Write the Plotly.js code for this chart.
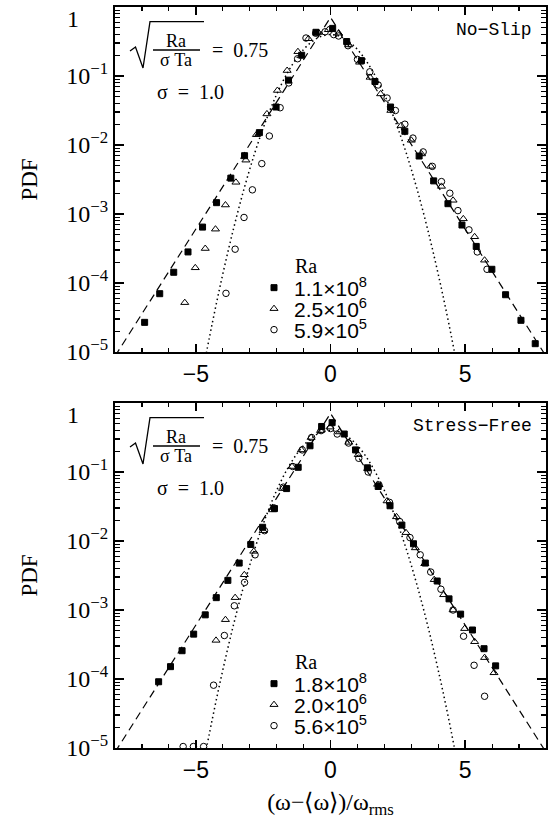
<!DOCTYPE html>
<html><head><meta charset="utf-8">
<script src="https://cdn.plot.ly/plotly-3.0.1.min.js"></script>
<style>html,body{margin:0;padding:0;background:#fff}#plot{width:548px;height:829px}</style>
</head><body><div id="plot"></div>
<script>
// ---------- data ----------
// No-Slip panel
const nsRa = ["1.1×10<sup>8</sup>", "2.5×10<sup>6</sup>", "5.9×10<sup>5</sup>"];
const nsSqX = [-6.90,-6.34,-5.82,-5.29,-4.75,-4.23,-3.70,-3.19,-2.64,-2.02,-1.56,-1.07,-0.54,0.08,0.60,1.15,1.65,2.23,2.76,3.29,3.83,4.36,4.88,5.41,5.99,6.50,7.07,7.60];
const nsSqY = [2.69e-5,7.0e-5,1.43e-4,2.82e-4,6.46e-4,1.46e-3,3.31e-3,7.0e-3,1.51e-2,3.55e-2,8.71e-2,0.200,0.430,0.490,0.316,0.167,8.32e-2,3.55e-2,1.58e-2,6.92e-3,3.02e-3,1.41e-3,6.92e-4,3.39e-4,1.58e-4,6.76e-5,2.88e-5,1.32e-5];
const nsTrX = [-5.41,-5.02,-4.65,-4.27,-3.90,-3.51,-3.14,-2.75,-2.36,-1.97,-1.61,-1.21,-0.82,-0.45,-0.08,0.30,0.68,1.08,1.47,1.86,2.24,2.62,3.00,3.38,3.72,4.12,4.55,4.93,5.35,5.72];
const nsTrY = [5.19e-5,1.66e-4,3.16e-4,6.03e-4,1.35e-3,2.88e-3,6.03e-3,1.41e-2,2.82e-2,6.17e-2,0.120,0.225,0.347,0.427,0.468,0.417,0.282,0.158,9.55e-2,5.50e-2,3.16e-2,1.91e-2,1.17e-2,7.41e-3,4.90e-3,2.51e-3,1.58e-3,8.51e-4,4.68e-4,2.14e-4];
const nsCiX = [-3.88,-3.54,-3.21,-2.90,-2.55,-2.27,-1.87,-1.55,-1.22,-0.91,-0.55,-0.20,0.12,0.30,0.65,1.00,1.46,1.77,2.10,2.41,2.76,3.06,3.44,3.78,4.12,4.43,4.73,5.14,5.45,5.81];
const nsCiY = [7.08e-5,3.09e-4,8.91e-4,2.24e-3,5.37e-3,1.35e-2,3.47e-2,7.94e-2,0.178,0.355,0.417,0.437,0.398,0.380,0.275,0.174,0.115,7.41e-2,4.79e-2,3.16e-2,2.00e-2,1.26e-2,7.94e-3,4.90e-3,2.95e-3,2.00e-3,1.12e-3,5.89e-4,2.82e-4,1.58e-4];
// Stress-Free panel
const sfRa = ["1.8×10<sup>8</sup>", "2.0×10<sup>6</sup>", "5.6×10<sup>5</sup>"];
const sfSqX = [-6.38,-5.94,-5.51,-5.08,-4.65,-4.24,-3.81,-3.39,-2.96,-2.52,-2.08,-1.63,-1.20,-0.76,-0.33,0.06,0.51,0.93,1.37,1.77,2.21,2.65,3.08,3.52,3.96,4.40,4.83,5.27,5.70,6.13];
const sfSqY = [9.12e-5,1.51e-4,2.57e-4,4.47e-4,8.51e-4,1.51e-3,2.69e-3,4.79e-3,8.91e-3,1.58e-2,2.95e-2,5.75e-2,0.117,0.240,0.457,0.519,0.355,0.209,0.115,6.17e-2,3.24e-2,1.70e-2,9.12e-3,4.79e-3,2.63e-3,1.45e-3,8.71e-4,5.13e-4,2.75e-4,1.55e-4];
const sfTrX = [-4.25,-3.90,-3.54,-3.20,-2.85,-2.50,-2.15,-1.78,-1.43,-1.08,-0.72,-0.37,-0.02,0.33,0.68,1.03,1.38,1.75,2.10,2.45,2.80,3.15,3.50,3.85,4.20,4.55,4.98,5.35,5.72,6.07];
const sfTrY = [3.63e-4,7.24e-4,1.51e-3,3.24e-3,7.08e-3,1.41e-2,2.82e-2,5.75e-2,0.120,0.209,0.316,0.398,0.447,0.380,0.269,0.178,0.112,6.61e-2,3.80e-2,2.24e-2,1.32e-2,7.94e-3,4.68e-3,2.75e-3,1.66e-3,1.00e-3,5.37e-4,3.47e-4,2.04e-4,1.23e-4];
const sfCiX = [-5.47,-5.09,-4.71,-4.34,-3.94,-3.57,-3.19,-2.80,-2.45,-2.10,-1.75,-1.40,-1.05,-0.70,-0.35,0.00,0.25,0.67,1.05,1.40,1.80,2.19,2.57,2.95,3.33,3.72,4.10,4.55,4.94,5.33,5.72];
const sfCiY = [1.05e-5,1.05e-5,1.05e-5,8.13e-5,4.27e-4,1.15e-3,2.51e-3,6.31e-3,1.41e-2,3.02e-2,6.03e-2,0.120,0.209,0.316,0.398,0.427,0.355,0.263,0.158,0.100,6.46e-2,3.63e-2,1.91e-2,1.12e-2,6.31e-3,3.55e-3,2.00e-3,1.00e-3,4.17e-4,1.58e-4,5.62e-5];
// reference curves (exponential: dashed, Gaussian: dotted)
const expX = [-8, 0, 8];
const expY = [8.7e-6, 0.707, 8.7e-6];
const gaussX = [-4.8,-4.4,-4.0,-3.6,-3.2,-2.8,-2.4,-2.0,-1.6,-1.2,-0.8,-0.4,0,0.4,0.8,1.2,1.6,2.0,2.4,2.8,3.2,3.6,4.0,4.4,4.8];
const gaussY = [3.96e-6,2.49e-5,1.338e-4,6.12e-4,2.384e-3,7.915e-3,2.239e-2,5.40e-2,0.1109,0.1942,0.2897,0.3683,0.3989,0.3683,0.2897,0.1942,0.1109,5.40e-2,2.239e-2,7.915e-3,2.384e-3,6.12e-4,1.338e-4,2.49e-5,3.96e-6];
const xTicks = [-5, 0, 5];
const yTicks = [1e-5, 1e-4, 1e-3, 1e-2, 1e-1];
const yTickText = ["10<sup>−5</sup>","10<sup>−4</sup>","10<sup>−3</sup>","10<sup>−2</sup>","10<sup>−1</sup>"];
const panelNames = ["No−Slip", "Stress−Free"];

// ---------- layout helpers ----------
const L=115, R=546, T=7, B=748;
const fx = px => (px-L)/(R-L);
const fy = py => (B-py)/(B-T);
const SERIF = "Liberation Serif, Times New Roman, serif";
const SANS = "Liberation Sans, Arial, sans-serif";
const MONO = "Liberation Mono, Courier New, monospace";

const minorVals = [];
for (let e=-5; e<0; e++) for (let k=2; k<=9; k++) minorVals.push(k*Math.pow(10,e));

function ptTrace(x,y,sym,size,name,xa,ya,leg){
  return {x:x,y:y,type:'scatter',mode:'markers',name:name,xaxis:xa,yaxis:ya,legend:leg,
    marker:{symbol:sym,size:size,color:'black',line:{color:'black',width:1}}};
}
const traces = [];
[['x','y',['legend','legend3','legend4'],nsSqX,nsSqY,nsTrX,nsTrY,nsCiX,nsCiY,nsRa],
 ['x2','y2',['legend2','legend5','legend6'],sfSqX,sfSqY,sfTrX,sfTrY,sfCiX,sfCiY,sfRa]].forEach(p=>{
  traces.push({x:expX,y:expY,type:'scatter',mode:'lines',xaxis:p[0],yaxis:p[1],showlegend:false,
    line:{color:'black',width:1.2,dash:'8px,5px'},hoverinfo:'skip'});
  traces.push({x:gaussX,y:gaussY,type:'scatter',mode:'lines',xaxis:p[0],yaxis:p[1],showlegend:false,
    line:{color:'black',width:1.5,dash:'1.5px,3px',shape:'spline'},hoverinfo:'skip'});
  traces.push(ptTrace(p[3],p[4],'square',6,p[9][0],p[0],p[1],p[2][0]));
  traces.push(ptTrace(p[5],p[6],'triangle-up-open',7,p[9][1],p[0],p[1],p[2][1]));
  traces.push(ptTrace(p[7],p[8],'circle-open',6.5,p[9][2],p[0],p[1],p[2][2]));
});

function xAx(anchor, withTitle){
  const a = {anchor:anchor, range:[-8,8], tickmode:'array', tickvals:xTicks, ticks:'inside', ticklen:8, tickwidth:1.5,
    tickcolor:'black', mirror:'allticks', showline:true, linecolor:'black', linewidth:2, showgrid:false, zeroline:false,
    tickfont:{family:SANS, size:23, color:'black'},
    minor:{dtick:1, tick0:0, ticks:'inside', ticklen:4, tickwidth:1.2, tickcolor:'black', showgrid:false}};
  if (withTitle) a.title = {text:'(ω−⟨ω⟩)/ω<sub>rms</sub>', font:{family:SERIF,size:24,color:'black'}, standoff:12};
  return a;
}
function yAx(anchor, dom){
  return {anchor:anchor, type:'log', range:[-5,0], domain:dom, tickmode:'array', tickvals:yTicks, ticktext:yTickText,
    ticks:'inside', ticklen:9, tickwidth:1.5, tickcolor:'black', mirror:'allticks', showline:true, linecolor:'black',
    linewidth:2, showgrid:false, zeroline:false, tickfont:{family:SERIF, size:24, color:'black'},
    title:{text:'PDF', font:{family:SERIF,size:23,color:'black'}, standoff:22},
    minor:{tickmode:'array', tickvals:minorVals, ticks:'inside', ticklen:5, tickwidth:1.2, tickcolor:'black', showgrid:false}};
}

const annotations = [], shapes = [];
[0, 396].forEach((o,i)=>{
  const A = (txt,x,y,xa,size,fam)=>annotations.push({text:txt,xref:'paper',yref:'paper',x:fx(x),y:fy(y+o),
    xanchor:xa,yanchor:'middle',showarrow:false,font:{family:fam||SERIF,size:size,color:'black'}});
  A('Ra',176,41,'center',18);
  A('σ Ta',176,60,'center',18);
  A('=  0.75',210,50,'left',20);
  A('σ  =  1.0',155,92,'left',20);
  A(panelNames[i],534,30,'right',18,MONO);
  A('1',73,19,'center',24);
  A('Ra',306,266,'center',20);
  shapes.push({type:'path',xref:'paper',yref:'paper',
    path:`M${fx(130)},${fy(51+o)} L${fx(135.5)},${fy(47+o)} L${fx(143)},${fy(68+o)} L${fx(150)},${fy(21.7+o)} L${fx(204)},${fy(21.7+o)}`,
    line:{color:'black',width:1.3}});
  shapes.push({type:'line',xref:'paper',yref:'paper',x0:fx(153),x1:fx(200),y0:fy(50+o),y1:fy(50+o),line:{color:'black',width:1.3}});
});

function leg(y){
  return {x:fx(254), y:fy(y), xanchor:'left', yanchor:'middle', bgcolor:'rgba(0,0,0,0)', borderwidth:0,
    font:{family:SANS,size:21,color:'black'}, itemwidth:30};
}
const rowY = [288, 309, 330];

const layout = {
  width:548, height:829, margin:{l:L, r:548-R, t:T, b:829-B}, paper_bgcolor:'white', plot_bgcolor:'white',
  showlegend:true,
  xaxis:xAx('y',false), yaxis:yAx('x',[fy(352),1]),
  xaxis2:xAx('y2',true), yaxis2:yAx('x2',[0,fy(403)]),
  legend:leg(rowY[0]), legend3:leg(rowY[1]), legend4:leg(rowY[2]),
  legend2:leg(rowY[0]+396), legend5:leg(rowY[1]+396), legend6:leg(rowY[2]+396),
  annotations:annotations, shapes:shapes
};
Plotly.newPlot('plot', traces, layout, {staticPlot:true, displayModeBar:false});
</script></body></html>
